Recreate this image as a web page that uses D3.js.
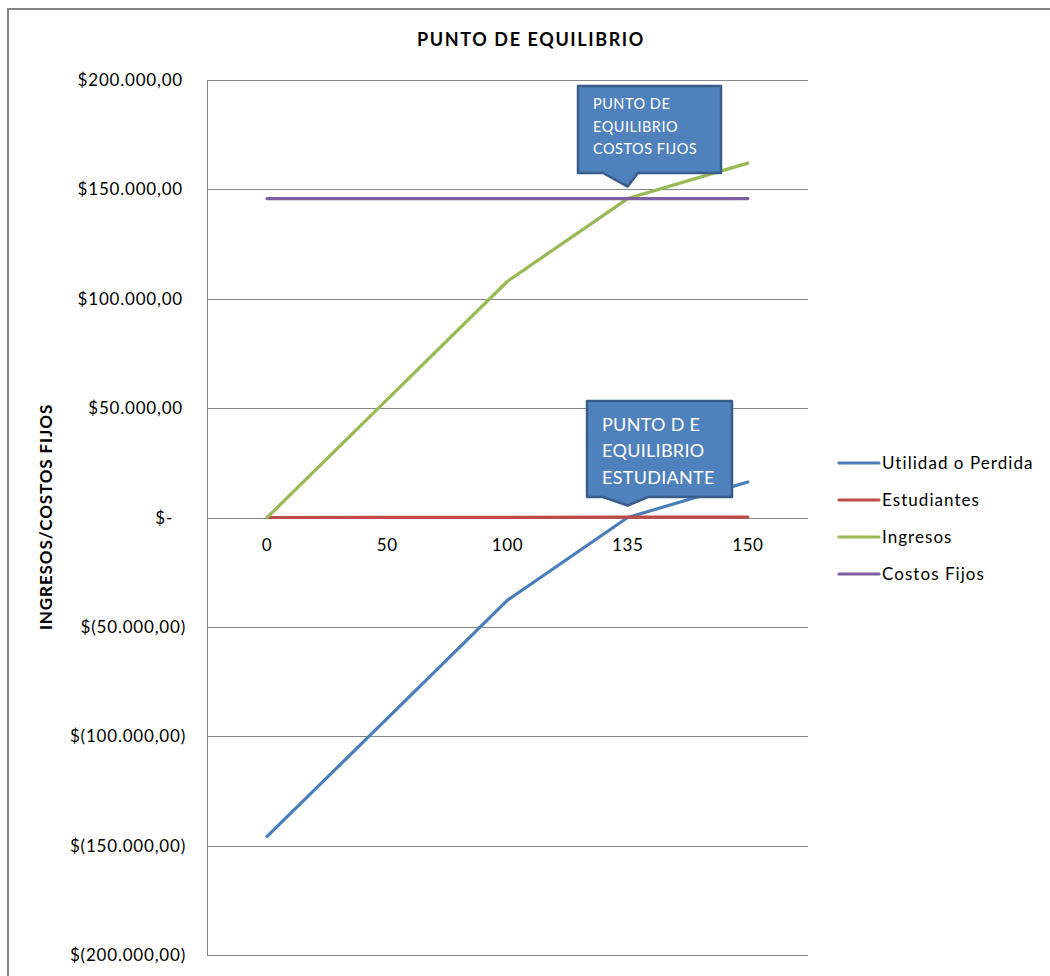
<!DOCTYPE html>
<html>
<head>
<meta charset="utf-8">
<script src="https://cdn.jsdelivr.net/npm/d3@7/dist/d3.min.js"></script>
<style>
  body { margin: 0; background: #fff; }
  svg { display: block; font-family: Lato, "Open Sans", sans-serif; }
</style>
</head>
<body>
<svg id="chart" width="1050" height="976"></svg>
<script>
// ---- DATA ----
const categories = ["0", "50", "100", "135", "150"];
const utilidad   = [-145800, -91800, -37800, 0, 16200];
const estudiantes = [0, 50, 100, 135, 150];
const ingresos   = [0, 54000, 108000, 145800, 162000];
const costosFijos = [145800, 145800, 145800, 145800, 145800];
const yTicks = [200000, 150000, 100000, 50000, 0, -50000, -100000, -150000, -200000];
const seriesNames = ["Utilidad o Perdida", "Estudiantes", "Ingresos", "Costos Fijos"];
const title = "PUNTO DE EQUILIBRIO";
const yTitle = "INGRESOS/COSTOS FIJOS";
const callout1 = ["PUNTO DE", "EQUILIBRIO", "COSTOS FIJOS"];
const callout2 = ["PUNTO D E", "EQUILIBRIO", "ESTUDIANTE"];

// ---- LAYOUT ----
const colors = ["#4A7EBB", "#BE4B48", "#98B954", "#7D60A0"];
const series = [utilidad, estudiantes, ingresos, costosFijos];
const svg = d3.select("#chart");
const plot = { left: 207, top: 80, right: 808, bottom: 955 };

// chart border
svg.append("rect").attr("x", 8).attr("y", 9).attr("width", 1060).attr("height", 1000)
  .attr("fill", "none").attr("stroke", "#868686").attr("stroke-width", 2);

const x = d3.scaleBand().domain(categories).range([plot.left, plot.right]);
const y = d3.scaleLinear().domain([-200000, 200000]).range([plot.bottom, plot.top]);
const cx = c => x(c) + x.bandwidth() / 2;

// gridlines
svg.append("g").selectAll("line").data(yTicks).join("line")
  .attr("x1", plot.left).attr("x2", plot.right)
  .attr("y1", d => Math.round(y(d)) + 0.5).attr("y2", d => Math.round(y(d)) + 0.5)
  .attr("stroke", "#868686").attr("stroke-width", 1);

// y axis line
svg.append("line").attr("x1", plot.left + 0.5).attr("x2", plot.left + 0.5)
  .attr("y1", plot.top).attr("y2", plot.bottom)
  .attr("stroke", "#868686").attr("stroke-width", 1);

// y tick labels
const fmt = v => {
  if (v === 0) return "$-";
  const s = d3.format(",.2f")(Math.abs(v)).replace(/,/g, "X").replace(/\./g, ",").replace(/X/g, ".");
  return v < 0 ? "$(" + s + ")" : "$" + s;
};
svg.append("g").selectAll("text").data(yTicks).join("text")
  .attr("x", d => d === 0 ? 173 : (d < 0 ? 186 : 183))
  .attr("y", d => y(d) + 6)
  .attr("text-anchor", "end")
  .attr("font-size", 17).attr("letter-spacing", 0.8).attr("fill", "#000")
  .text(fmt);

// x tick labels
svg.append("g").selectAll("text").data(categories).join("text")
  .attr("x", d => cx(d)).attr("y", y(0) + 33)
  .attr("text-anchor", "middle").attr("font-size", 17).attr("letter-spacing", 0.6).attr("fill", "#000")
  .text(d => d);

// lines
const line = d3.line().x((d, i) => cx(categories[i])).y(d => y(d));
series.forEach((s, i) => {
  svg.append("path").datum(s).attr("d", line)
    .attr("fill", "none").attr("stroke", colors[i]).attr("stroke-width", 3.2)
    .attr("stroke-linejoin", "round").attr("stroke-linecap", "round");
});

// title
svg.append("text").attr("x", 531).attr("y", 46).attr("text-anchor", "middle")
  .attr("font-size", 18).attr("letter-spacing", 1.6).attr("font-weight", "bold").text(title);

// y axis title
svg.append("text").attr("transform", "translate(52,517) rotate(-90)")
  .attr("text-anchor", "middle").attr("font-size", 17).attr("letter-spacing", 0.9)
  .attr("font-weight", "bold").text(yTitle);

// legend
const lg = svg.append("g");
seriesNames.forEach((n, i) => {
  const yy = 463 + i * 37;
  lg.append("line").attr("x1", 839).attr("x2", 879).attr("y1", yy).attr("y2", yy)
    .attr("stroke", colors[i]).attr("stroke-width", 3.2).attr("stroke-linecap", "round");
  lg.append("text").attr("x", 882).attr("y", yy + 6).attr("font-size", 17)
    .attr("letter-spacing", 1.05).text(n);
});

// callouts
function callout(box, tipCat, tipVal, lines, fs, ls, textX, baselines) {
  const tx = cx(tipCat), ty = y(tipVal) - 12;
  const [x0, y0, x1, y1, b0, b1] = box;
  const p = `M${x0},${y0} L${x1},${y0} L${x1},${y1} L${b1},${y1} L${tx},${ty} L${b0},${y1} L${x0},${y1} Z`;
  svg.append("path").attr("d", p).attr("fill", "#4F81BD")
    .attr("stroke", "#385D8A").attr("stroke-width", 2.5).attr("stroke-linejoin", "round");
  lines.forEach((t, i) => {
    svg.append("text").attr("x", textX).attr("y", baselines[i])
      .attr("font-size", fs).attr("letter-spacing", ls).attr("fill", "#fff").text(t);
  });
}
callout([578, 86, 721, 173, 603, 638], "135", 145800, callout1, 14.5, 0.5, 593, [109, 132, 154]);
callout([587, 401, 732, 497, 603, 648], "135", 0, callout2, 18, 0.3, 602, [431, 457, 484]);
</script>
</body>
</html>
